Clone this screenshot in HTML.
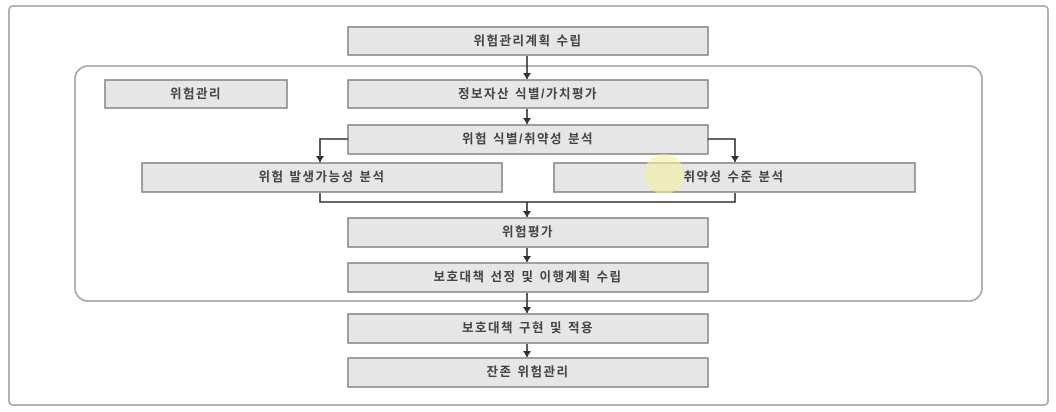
<!DOCTYPE html>
<html><head><meta charset="utf-8"><style>
html,body{margin:0;padding:0;background:#fff;width:1056px;height:412px;overflow:hidden}
text{font-family:"Liberation Sans","Noto Sans CJK KR","NanumGothic",sans-serif;font-size:12.5px;font-weight:bold;fill:#444;letter-spacing:1.5px;text-anchor:middle;dominant-baseline:central}
.b{fill:#e6e6e6;stroke:#8a8a8a;stroke-width:1.6}
.l{fill:none;stroke:#333;stroke-width:1.6}
</style></head><body>
<svg width="1056" height="412" xmlns="http://www.w3.org/2000/svg">
<defs><marker id="a" markerWidth="8" markerHeight="8" refX="7" refY="4" orient="auto" markerUnits="userSpaceOnUse"><path d="M1,0 L7,4 L1,8 z" fill="#333"/></marker></defs>
<rect x="9" y="6" width="1039" height="399" rx="4" fill="none" stroke="#aaa" stroke-width="1.8"/>
<rect x="75" y="66" width="907" height="235" rx="13" fill="none" stroke="#aaa" stroke-width="1.8"/>
<rect class="b" x="348" y="27" width="360" height="28"/><text x="528" y="41">위험관리계획 수립</text>
<rect class="b" x="105" y="80" width="182" height="28"/><text x="196" y="94">위험관리</text>
<rect class="b" x="348" y="80" width="360" height="28"/><text x="528" y="94">정보자산 식별/가치평가</text>
<rect class="b" x="348" y="125" width="360" height="29"/><text x="528" y="139">위험 식별/취약성 분석</text>
<rect class="b" x="142" y="163" width="360" height="29"/><text x="322" y="177">위험 발생가능성 분석</text>
<rect class="b" x="554" y="163" width="361" height="29"/><text x="734" y="177">취약성 수준 분석</text>
<rect class="b" x="348" y="218" width="360" height="29"/><text x="528" y="232">위험평가</text>
<rect class="b" x="348" y="263" width="360" height="29"/><text x="528" y="277">보호대책 선정 및 이행계획 수립</text>
<rect class="b" x="348" y="314" width="360" height="29"/><text x="528" y="328">보호대책 구현 및 적용</text>
<rect class="b" x="348" y="358" width="360" height="29"/><text x="528" y="372">잔존 위험관리</text>
<path class="l" d="M527,56 V79" marker-end="url(#a)"/>
<path class="l" d="M527,109 V124" marker-end="url(#a)"/>
<path class="l" d="M348,139 H320 V162" marker-end="url(#a)"/>
<path class="l" d="M708,139 H735 V162" marker-end="url(#a)"/>
<path class="l" d="M320,193 V202 H735 V193"/>
<path class="l" d="M527,202 V217" marker-end="url(#a)"/>
<path class="l" d="M527,248 V262" marker-end="url(#a)"/>
<path class="l" d="M527,293 V313" marker-end="url(#a)"/>
<path class="l" d="M527,344 V357" marker-end="url(#a)"/>
<circle cx="664" cy="174" r="20" fill="#f5f0a0" opacity="0.6"/>
</svg>
</body></html>
